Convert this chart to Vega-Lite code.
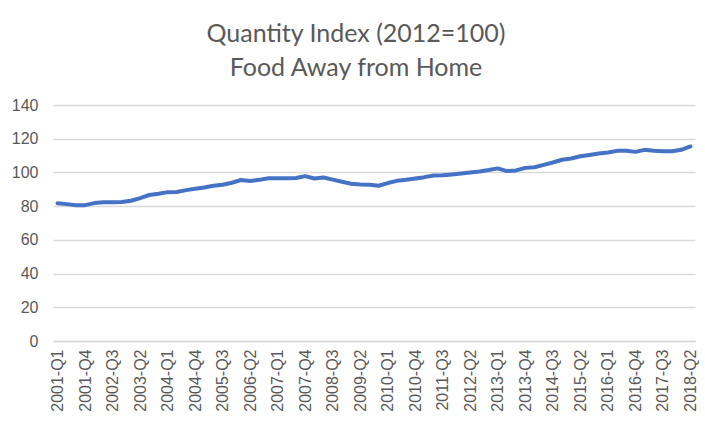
{
  "$schema": "https://vega.github.io/schema/vega-lite/v6.json",
  "width": 642,
  "height": 236,
  "autosize": {"type": "none"},
  "padding": {"left": 53, "top": 105, "right": 10, "bottom": 83},
  "background": "white",
  "title": {
    "text": ["Quantity Index (2012=100)", "Food Away from Home"],
    "anchor": "middle",
    "dx": -18,
    "font": "Lato",
    "fontSize": 25,
    "fontWeight": "normal",
    "color": "#595959",
    "lineHeight": 34,
    "offset": 16
  },
  "data": {
    "values": [
      {"q": "2001-Q1", "v": 81.7}, {"q": "2001-Q2", "v": 81.2}, {"q": "2001-Q3", "v": 80.5}, {"q": "2001-Q4", "v": 80.6},
      {"q": "2002-Q1", "v": 81.8}, {"q": "2002-Q2", "v": 82.3}, {"q": "2002-Q3", "v": 82.3}, {"q": "2002-Q4", "v": 82.4},
      {"q": "2003-Q1", "v": 83.2}, {"q": "2003-Q2", "v": 84.8}, {"q": "2003-Q3", "v": 86.6}, {"q": "2003-Q4", "v": 87.3},
      {"q": "2004-Q1", "v": 88.3}, {"q": "2004-Q2", "v": 88.4}, {"q": "2004-Q3", "v": 89.5}, {"q": "2004-Q4", "v": 90.3},
      {"q": "2005-Q1", "v": 91.1}, {"q": "2005-Q2", "v": 92.1}, {"q": "2005-Q3", "v": 92.7}, {"q": "2005-Q4", "v": 93.9},
      {"q": "2006-Q1", "v": 95.5}, {"q": "2006-Q2", "v": 94.9}, {"q": "2006-Q3", "v": 95.6}, {"q": "2006-Q4", "v": 96.6},
      {"q": "2007-Q1", "v": 96.6}, {"q": "2007-Q2", "v": 96.6}, {"q": "2007-Q3", "v": 96.7}, {"q": "2007-Q4", "v": 97.8},
      {"q": "2008-Q1", "v": 96.4}, {"q": "2008-Q2", "v": 97.0}, {"q": "2008-Q3", "v": 95.7}, {"q": "2008-Q4", "v": 94.5},
      {"q": "2009-Q1", "v": 93.3}, {"q": "2009-Q2", "v": 92.8}, {"q": "2009-Q3", "v": 92.7}, {"q": "2009-Q4", "v": 92.1},
      {"q": "2010-Q1", "v": 93.7}, {"q": "2010-Q2", "v": 95.0}, {"q": "2010-Q3", "v": 95.6}, {"q": "2010-Q4", "v": 96.4},
      {"q": "2011-Q1", "v": 97.2}, {"q": "2011-Q2", "v": 98.2}, {"q": "2011-Q3", "v": 98.3}, {"q": "2011-Q4", "v": 98.8},
      {"q": "2012-Q1", "v": 99.4}, {"q": "2012-Q2", "v": 100.0}, {"q": "2012-Q3", "v": 100.6}, {"q": "2012-Q4", "v": 101.4},
      {"q": "2013-Q1", "v": 102.4}, {"q": "2013-Q2", "v": 100.8}, {"q": "2013-Q3", "v": 101.2}, {"q": "2013-Q4", "v": 102.7},
      {"q": "2014-Q1", "v": 103.1}, {"q": "2014-Q2", "v": 104.5}, {"q": "2014-Q3", "v": 105.9}, {"q": "2014-Q4", "v": 107.5},
      {"q": "2015-Q1", "v": 108.3}, {"q": "2015-Q2", "v": 109.6}, {"q": "2015-Q3", "v": 110.4}, {"q": "2015-Q4", "v": 111.2},
      {"q": "2016-Q1", "v": 111.8}, {"q": "2016-Q2", "v": 112.8}, {"q": "2016-Q3", "v": 112.8}, {"q": "2016-Q4", "v": 112.2},
      {"q": "2017-Q1", "v": 113.4}, {"q": "2017-Q2", "v": 112.8}, {"q": "2017-Q3", "v": 112.6}, {"q": "2017-Q4", "v": 112.6},
      {"q": "2018-Q1", "v": 113.4}, {"q": "2018-Q2", "v": 115.4}
    ]
  },
  "mark": {"type": "line", "color": "#4472C4", "strokeWidth": 4, "strokeCap": "round", "strokeJoin": "round"},
  "encoding": {
    "x": {
      "field": "q",
      "type": "ordinal",
      "sort": null,
      "scale": {"type": "point", "padding": 0.5},
      "axis": {
        "title": null,
        "values": ["2001-Q1", "2001-Q4", "2002-Q3", "2003-Q2", "2004-Q1", "2004-Q4", "2005-Q3", "2006-Q2", "2007-Q1", "2007-Q4", "2008-Q3", "2009-Q2", "2010-Q1", "2010-Q4", "2011-Q3", "2012-Q2", "2013-Q1", "2013-Q4", "2014-Q3", "2015-Q2", "2016-Q1", "2016-Q4", "2017-Q3", "2018-Q2"],
        "labelAngle": -90,
        "labelAlign": "right",
        "labelBaseline": "middle",
        "labelFont": "Liberation Sans",
        "labelFontSize": 16,
        "labelColor": "#595959",
        "labelPadding": 8,
        "ticks": false,
        "domainColor": "#d9d9d9",
        "domainWidth": 1.3,
        "grid": false
      }
    },
    "y": {
      "field": "v",
      "type": "quantitative",
      "scale": {"domain": [0, 140], "nice": false},
      "axis": {
        "title": null,
        "values": [0, 20, 40, 60, 80, 100, 120, 140],
        "labelFont": "Liberation Sans",
        "labelFontSize": 16,
        "labelColor": "#595959",
        "labelPadding": 15,
        "ticks": false,
        "domain": false,
        "grid": true,
        "gridColor": "#d9d9d9",
        "gridWidth": 1.3
      }
    }
  },
  "config": {"view": {"stroke": null}}
}
